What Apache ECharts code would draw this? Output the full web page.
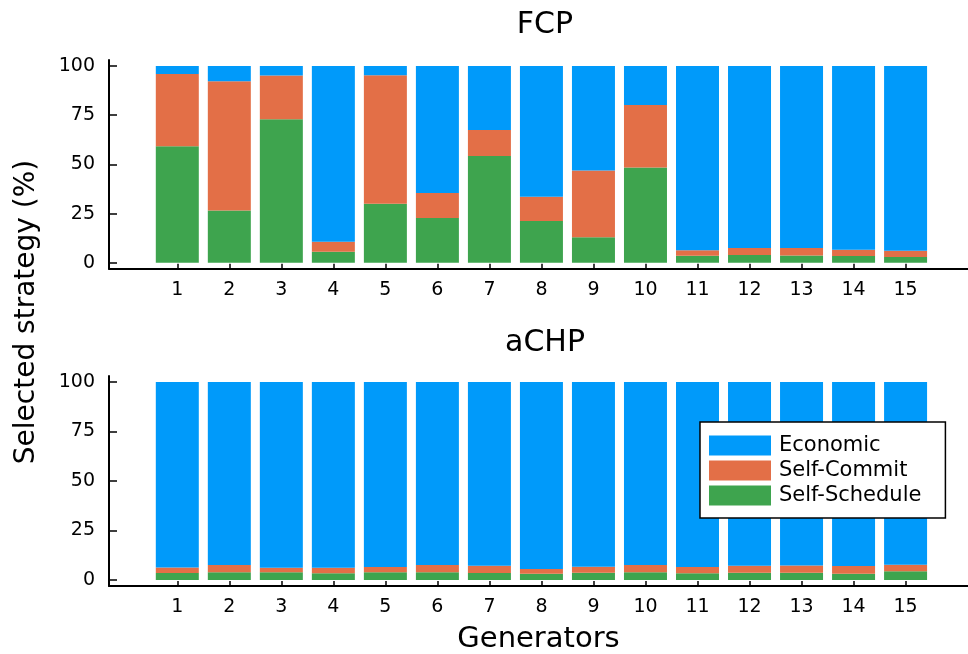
<!DOCTYPE html>
<html>
<head>
<meta charset="utf-8">
<script src="https://cdn.jsdelivr.net/npm/echarts@6/dist/echarts.min.js"></script>
<style>
  html, body { margin: 0; padding: 0; background: #fff; }
  #chart { width: 968px; height: 654px; }
</style>
</head>
<body>
<div id="chart"></div>
<script>
// generator ids on x
var generators = [1, 2, 3, 4, 5, 6, 7, 8, 9, 10, 11, 12, 13, 14, 15]
var yTicks = [0, 25, 50, 75, 100]

// FCP (top panel), percent of time each strategy is picked
var fcpSchedule = [59.2, 26.6, 72.9, 5.6, 30.0, 22.8, 54.2, 21.2, 13.0, 48.4, 3.6, 3.9, 3.7, 3.4, 3.0]
var fcpCommit = [36.7, 65.6, 22.2, 5.1, 65.3, 12.7, 13.2, 12.3, 33.9, 31.8, 2.8, 3.6, 3.8, 3.2, 3.1]
var fcpEconomic = [4.1, 7.8, 4.9, 89.3, 4.7, 64.5, 32.6, 66.5, 53.1, 19.8, 93.6, 92.5, 92.5, 93.4, 93.9]

// aCHP (bottom panel)
var achpSchedule = [3.5, 4.0, 4.0, 3.4, 4.0, 4.0, 3.5, 3.2, 3.7, 4.0, 3.4, 3.7, 3.7, 3.2, 4.5]
var achpCommit = [2.9, 3.6, 2.2, 2.8, 2.6, 3.6, 3.7, 2.4, 3.0, 3.6, 3.2, 3.5, 3.7, 3.9, 3.2]
var achpEconomic = [93.6, 92.4, 93.8, 93.8, 93.4, 92.4, 92.8, 94.4, 93.3, 92.4, 93.4, 92.8, 92.6, 92.9, 92.3]

var FONT = 'DejaVu Sans'
var colors = { 'Economic': '#009AFA', 'Self-Commit': '#E36F47', 'Self-Schedule': '#3EA44E' }

// value first so that the y dimension is the one that gets stacked
function pairs(vals) {
  return generators.map(function (g, i) { return [vals[i], g] })
}

function barSeries(name, vals, idx) {
  return {
    name: name,
    type: 'bar',
    stack: 'panel' + idx,
    xAxisIndex: idx,
    yAxisIndex: idx,
    barWidth: 43,
    encode: { x: 1, y: 0 },
    itemStyle: { color: colors[name] },
    emphasis: { disabled: true },
    data: pairs(vals)
  }
}

function xAxis(idx) {
  return {
    type: 'value',
    gridIndex: idx,
    min: -0.313,
    max: 16.2,
    splitLine: { show: false },
    axisLine: { show: true, onZero: false, lineStyle: { color: '#000', width: 2 } },
    axisTick: { show: true, inside: true, length: 5, customValues: generators, lineStyle: { color: '#000', width: 1.5 } },
    axisLabel: { customValues: generators, color: '#000', fontFamily: FONT, fontSize: 19, margin: 12 }
  }
}

function yAxis(idx) {
  return {
    type: 'value',
    gridIndex: idx,
    min: -3,
    max: 103,
    splitLine: { show: false },
    axisLine: { show: true, onZero: false, lineStyle: { color: '#000', width: 2 } },
    axisTick: { show: true, inside: true, length: 8, customValues: yTicks, lineStyle: { color: '#000', width: 1.5 } },
    axisLabel: { customValues: yTicks, color: '#000', fontFamily: FONT, fontSize: 19, margin: 14 }
  }
}

var chart = echarts.init(document.getElementById('chart'))

var xs = [xAxis(0), xAxis(1)]
xs[1].name = 'Generators'
xs[1].nameLocation = 'middle'
xs[1].nameGap = 39
xs[1].nameTextStyle = { color: '#000', fontFamily: FONT, fontSize: 29 }

chart.setOption({
  animation: false,
  title: [
    { text: 'FCP', left: 540, top: 5, textAlign: 'center', textStyle: { color: '#000', fontFamily: FONT, fontSize: 30, fontWeight: 'normal' } },
    { text: 'aCHP', left: 540, top: 323, textAlign: 'center', textStyle: { color: '#000', fontFamily: FONT, fontSize: 30, fontWeight: 'normal' } }
  ],
  grid: [
    { left: 109, right: 0, top: 60, height: 208.7, outerBoundsMode: 'none' },
    { left: 109, right: 0, top: 376, height: 210, outerBoundsMode: 'none' }
  ],
  legend: {
    orient: 'vertical',
    left: 700,
    top: 422,
    padding: [13, 24, 12, 9],
    itemWidth: 62,
    itemHeight: 20,
    itemGap: 4,
    icon: 'rect',
    backgroundColor: '#fff',
    borderColor: '#000',
    borderWidth: 1.5,
    borderRadius: 0,
    textStyle: { color: '#000', fontFamily: FONT, fontSize: 21, padding: [0, 0, 0, 3] },
    data: ['Economic', 'Self-Commit', 'Self-Schedule']
  },
  graphic: [
    {
      type: 'text',
      x: 27,
      y: 312,
      rotation: Math.PI / 2,
      style: { text: 'Selected strategy (%)', fill: '#000', font: '28px "DejaVu Sans"', textAlign: 'center', textVerticalAlign: 'middle' }
    }
  ],
  xAxis: xs,
  yAxis: [yAxis(0), yAxis(1)],
  series: [
    barSeries('Self-Schedule', fcpSchedule, 0),
    barSeries('Self-Commit', fcpCommit, 0),
    barSeries('Economic', fcpEconomic, 0),
    barSeries('Self-Schedule', achpSchedule, 1),
    barSeries('Self-Commit', achpCommit, 1),
    barSeries('Economic', achpEconomic, 1)
  ]
})
</script>
</body>
</html>
